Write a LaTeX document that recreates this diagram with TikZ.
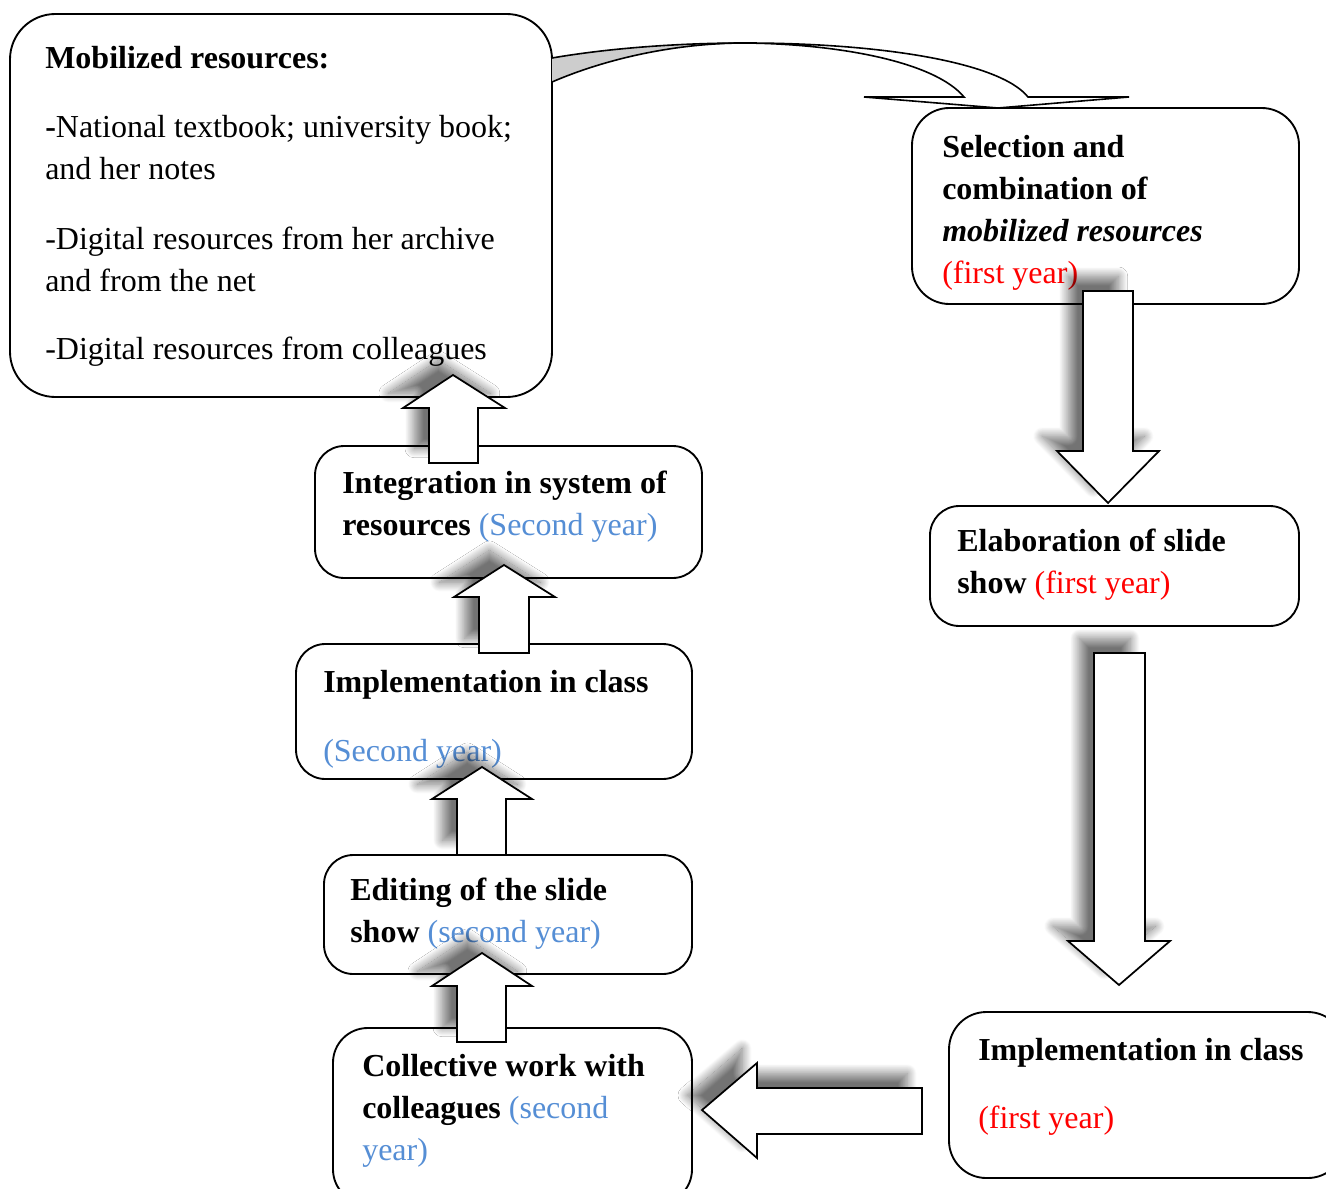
\documentclass[tikz,border=0pt]{standalone}
\usepackage{fontspec}
\setmainfont{Liberation Serif}
\usetikzlibrary{shadows.blur}
\definecolor{yrblue}{RGB}{85,142,213}
\definecolor{yrred}{RGB}{255,0,0}
\definecolor{bandgray}{RGB}{205,205,205}
\begin{document}
\begin{tikzpicture}[x=0.75pt,y=-0.75pt,
  box/.style={draw, line width=1.4pt, fill=white, inner sep=0pt},
  txt/.style={anchor=base west, inner sep=0pt, align=left, font=\fontsize{24}{31.5}\selectfont},
  barrow/.style={draw, fill=white, line width=1.3pt, line join=miter,
    blur shadow={shadow xshift=-11pt, shadow yshift=11pt, shadow blur radius=7pt,
      shadow blur steps=24, shadow opacity=55}},
  band/.style={draw, line width=1.2pt, line join=miter},
]
\useasboundingbox (0,0) rectangle (1326,1188);
\clip (0,0) rectangle (1326,1188);

% boxes
\node[box, minimum width=406.5pt, minimum height=287.25pt, rounded corners=34pt] (res) at (281,205.5) {};
\node[box, minimum width=290.25pt, minimum height=147pt, rounded corners=28pt] (sel) at (1105.5,206) {};
\node[box, minimum width=276.75pt, minimum height=90pt, rounded corners=22pt] (elab) at (1114.5,566) {};
\node[box, minimum width=297pt, minimum height=124.5pt, rounded corners=28pt] (implA) at (1147,1095) {};
\node[box, minimum width=290.25pt, minimum height=99pt, rounded corners=22pt] (integ) at (508.5,512) {};
\node[box, minimum width=297pt, minimum height=101.25pt, rounded corners=22pt] (implB) at (494,711.5) {};
\node[box, minimum width=276pt, minimum height=89.25pt, rounded corners=22pt] (edit) at (508,914.5) {};
\node[box, minimum width=269.25pt, minimum height=132pt, rounded corners=26pt] (coll) at (512.5,1116) {};

% texts (anchored at the baseline of their last line)
\node[txt] (tres) at (45,359) {\textbf{Mobilized resources:}\\[20.25pt]
  \textbf{-}National textbook; university book;\\
  and her notes\\[21pt]
  -Digital resources from her archive\\
  and from the net\\[19.5pt]
  -Digital resources from colleagues};
\node[txt] (tsel) at (942,283) {\textbf{Selection and}\\
  \textbf{combination of}\\
  \textbf{\textit{mobilized resources}}\\
  \textcolor{yrred}{(first year)}};
\node[txt] (telab) at (957,593) {\textbf{Elaboration of slide}\\
  \textbf{show} \textcolor{yrred}{(first year)}};
\node[txt] (timplA) at (978,1128) {\textbf{Implementation in class}\\[19.5pt]
  \textcolor{yrred}{(first year)}};
\node[txt] (tinteg) at (342,535) {\textbf{Integration in system of}\\
  \textbf{resources} \textcolor{yrblue}{(Second year)}};
\node[txt] (timplB) at (323,761) {\textbf{Implementation in class}\\[20.25pt]
  \textcolor{yrblue}{(Second year)}};
\node[txt] (tedit) at (350,942) {\textbf{Editing of the slide}\\
  \textbf{show} \textcolor{yrblue}{(second year)}};
\node[txt] (tcoll) at (362,1160) {\textbf{Collective work with}\\
  \textbf{colleagues} \textcolor{yrblue}{(second}\\
  \textcolor{yrblue}{year)}};

% curved arrow: resources -> selection
\fill[bandgray] (552,58) .. controls (610,48) and (680,43) .. (745,43)
  .. controls (680,43) and (610,57) .. (552,82) -- cycle;
\draw[line width=1.2pt] (552,58) .. controls (610,48) and (680,43) .. (745,43);
\draw[line width=1.2pt] (552,82) .. controls (610,57) and (680,43) .. (745,43);
\draw[band, fill=white] (745,43) .. controls (880,43) and (1000,62) .. (1028,97)
  -- (1129,97) -- (998,108) -- (864,97) -- (964,97)
  .. controls (935,62) and (840,44) .. (745,43) -- cycle;

% block arrows
\draw[barrow] (1083,291) -- (1133,291) -- (1133,451) -- (1159,451) -- (1108,503)
  -- (1057,451) -- (1083,451) -- cycle;
\draw[barrow] (1094,653) -- (1145,653) -- (1145,941) -- (1170,941) -- (1119,985)
  -- (1068,941) -- (1094,941) -- cycle;
\draw[barrow] (922,1088) -- (922,1134) -- (757,1134) -- (757,1158) -- (702,1110)
  -- (757,1063) -- (757,1088) -- cycle;
\draw[barrow] (457,1042) -- (457,986) -- (432,986) -- (482,953) -- (532,986)
  -- (506,986) -- (506,1042) -- cycle;
\draw[barrow] (457,855) -- (457,799) -- (432,799) -- (482,767) -- (532,799)
  -- (506,799) -- (506,855) -- cycle;
\draw[barrow] (479,653) -- (479,597) -- (454,597) -- (504,565) -- (555,597)
  -- (529,597) -- (529,653) -- cycle;
\draw[barrow] (429,463) -- (429,408) -- (403,408) -- (453,375) -- (505,408)
  -- (478,408) -- (478,463) -- cycle;
\end{tikzpicture}
\end{document}
